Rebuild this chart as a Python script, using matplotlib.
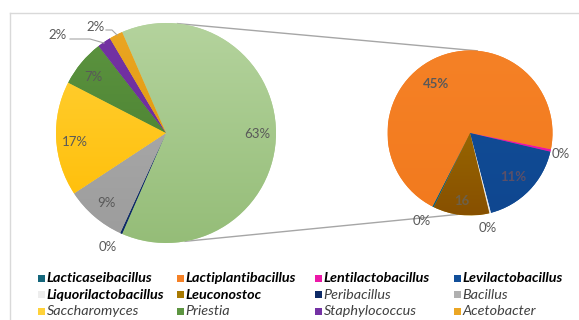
import matplotlib
matplotlib.use("Agg")
import matplotlib.pyplot as plt
import numpy as np
from matplotlib.colors import to_rgb
from matplotlib.patches import Rectangle

W, H = 579, 320

# Composition of isolates (percent); the Lactobacillaceae group is broken out in the second pie
main_names = ["Lactobacillaceae", "Peribacillus", "Bacillus", "Saccharomyces",
              "Priestia", "Staphylococcus", "Acetobacter"]
main_values = [None, 0.3, 9, 17, 7, 2, 2]
main_text = ["63%", "0%", "9%", "17%", "7%", "2%", "2%"]

sub_names = ["Lacticaseibacillus", "Lactiplantibacillus", "Lentilactobacillus",
             "Levilactobacillus", "Liquorilactobacillus", "Leuconostoc"]
sub_values = [0.2, 45, 0.3, 11, 0.2, 7]
sub_text = ["0%", "45%", "0%", "11%", "0%", "16"]

main_values[0] = sum(sub_values)

legend_names = sub_names + main_names[1:]
legend_bold = [True] * 6 + [False] * 6

# fill colours: (top, bottom) of a vertical gradient
sub_fill = [("#14667b", "#12617a"), ("#f58126", "#f27a1e"), ("#ec18a8", "#e614a2"),
            ("#124f99", "#0f4790"), ("#ededed", "#e6e6e6"), ("#a87a02", "#875000")]
main_fill = [("#b4d39d", "#95bd78"), ("#0e2a66", "#0e2a66"), ("#b0b0b0", "#9c9c9c"),
             ("#ffd23a", "#ffbb00"), ("#5d9541", "#44792a"), ("#7432a4", "#6a2d98"),
             ("#eba624", "#db9200")]
legend_colors = [c[0] for c in sub_fill] + [c[0] for c in main_fill[1:]]

plt.rcParams["font.family"] = ["Lato", "DejaVu Sans"]

fig = plt.figure(figsize=(W / 100, H / 100), dpi=100)
ax = fig.add_axes([0, 0, 1, 1])


def P(x, y):
    return x, H - y


def shade(wedges, fills, cx, cy, r):
    ramp = np.linspace(0, 1, 256)[:, None, None]
    for w, (top, bot) in zip(wedges, fills):
        c0 = np.array(to_rgb(top))
        c1 = np.array(to_rgb(bot))
        img = c0 + (c1 - c0) * ramp
        im = ax.imshow(img, extent=(cx - r, cx + r, cy - r, cy + r), origin="upper",
                       aspect="auto", zorder=3, interpolation="bilinear")
        im.set_clip_path(w)


# chart frame
ax.plot([9.5, W], [H - 12.5, H - 12.5], color="#d9d9d9", lw=1, zorder=0)
ax.plot([9.5, 9.5], [H - 12.5, 0], color="#d9d9d9", lw=1, zorder=0)

# main pie
mcx, mcy = P(166, 133)
mr = 110
frac0 = main_values[0] / sum(main_values)
mw, _ = ax.pie(main_values, colors=[c[0] for c in main_fill], startangle=frac0 * 180,
               counterclock=False, center=(mcx, mcy), radius=mr, frame=True,
               wedgeprops=dict(linewidth=0, zorder=2))
shade(mw, main_fill, mcx, mcy, mr)

# secondary pie
scx, scy = P(470, 133)
sr = 82.5
sw, _ = ax.pie(sub_values, colors=[c[0] for c in sub_fill], startangle=244,
               counterclock=False, center=(scx, scy), radius=sr, frame=True,
               wedgeprops=dict(linewidth=0, zorder=2))
shade(sw, sub_fill, scx, scy, sr)

# connector lines between the pies
def edge(cx, cy, r, deg):
    a = np.deg2rad(deg)
    return cx + r * np.cos(a), cy + r * np.sin(a)

for a_main, a_sub in [(84, 85), (-80, -99)]:
    x0, y0 = edge(mcx, mcy, mr, a_main)
    x1, y1 = edge(scx, scy, sr, a_sub)
    ax.plot([x0, x1], [y0, y1], color="#a6a6a6", lw=1, zorder=1)

lab = dict(fontsize=9.5, color="#595959", ha="center", va="center", zorder=6)

main_pos = [(257, 134), (108, 247), (106, 203), (75, 142), (93, 77), (58, 35), (96, 27)]
for t, (x, y) in zip(main_text, main_pos):
    ax.text(*P(x, y), t, **lab)

# leader lines for the two small slices
for pts in ([(70, 39), (90, 39), (104, 43)], [(106, 30), (112, 30), (117, 35)]):
    xs, ys = zip(*[P(x, y) for x, y in pts])
    ax.plot(xs, ys, color="#a6a6a6", lw=0.8, zorder=5)

sub_pos = [(422, 221), (436, 84), (561, 154), (513, 177), (488, 228), (462, 201)]
sub_bold = [False, True, False, True, False, True]
for t, (x, y), b in zip(sub_text, sub_pos, sub_bold):
    kw = dict(lab)
    if b:
        kw["fontweight"] = "bold"
    if t == "11%":
        kw["color"] = "#5b5068"
    if t == "16":
        kw["color"] = "#6e6048"
    ax.text(*P(x, y), t, **kw)

# legend
col_x = [38, 177, 315, 454]
row_y = [278.3, 294.7, 311.3]
for i, (name, col, bold) in enumerate(zip(legend_names, legend_colors, legend_bold)):
    r, c = divmod(i, 4)
    x, y = col_x[c], row_y[r]
    ax.add_patch(Rectangle(P(x, y + 3.4), 6.8, 6.8, facecolor=col, edgecolor="none", zorder=5))
    ax.text(*P(x + 8.5, y), name, fontsize=10.4, style="italic",
            fontweight="bold" if bold else "normal",
            color="#000000" if bold else "#404040", ha="left", va="center", zorder=6)

ax.set_xlim(0, W)
ax.set_ylim(0, H)
ax.set_aspect("equal")
ax.axis("off")
fig.savefig("out.png", dpi=100)
